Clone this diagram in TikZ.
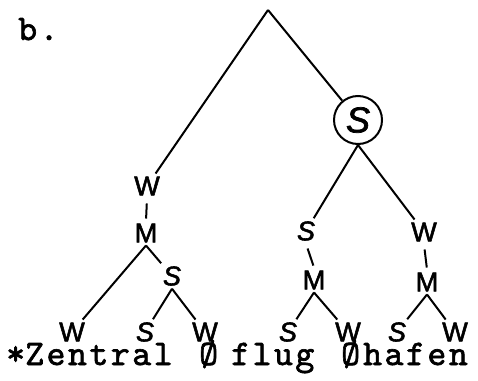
\documentclass[tikz,border=0pt]{standalone}
\usepackage{fontspec}
\newfontfamily\typefont{lmmono10-regular.otf}[LetterSpace=7, FakeBold=1.8]
\newfontfamily\handfont{Liberation Sans}[FakeBold=2]
\usetikzlibrary{positioning}

\begin{document}
\begin{tikzpicture}[
  x=1pt, y=-1pt,
  lab/.style={inner sep=3pt, font=\fontsize{27}{27}\selectfont\handfont},
  slab/.style={lab, font=\fontsize{27}{27}\selectfont\handfont\itshape},
  wrd/.style={inner sep=0pt, anchor=base west, font=\fontsize{36}{36}\selectfont\typefont},
  branch/.style={line width=2pt},
  stem/.style={line width=2pt, shorten <=5pt, shorten >=2pt}
]
  \useasboundingbox (0,0) rectangle (478,380);

  % ── Label ──
  \node[wrd] (tag) at (18,40) {b.};

  % ── Left branch ──
  \coordinate (root) at (268,10);
  \node[lab] (w1) at (147,186) {W};
  \node[lab] (m1) at (146,233) {M};
  \node[slab] (s2) at (172,276) {S};
  \node[lab] (l1) at (72,332) {W};
  \node[slab] (l2) at (145,332) {S};
  \node[lab] (l3) at (205,332) {W};

  \draw[branch] (root) -- (w1);
  \draw[stem] (w1.south) -- (m1.north);
  \draw[branch] (m1.south) -- (l1);
  \draw[branch] (m1.south) -- (s2);
  \draw[branch] (s2.south) -- (l2);
  \draw[branch] (s2.south) -- (l3);

  % ── Right branch ──
  \node[slab, font=\fontsize{36}{36}\selectfont\handfont\itshape, draw, circle, line width=2pt,
        minimum size=48pt, inner sep=0pt] (cs) at (358,120) {S};
  \node[slab] (s3) at (306,231) {S};
  \node[lab] (m3) at (314,280) {M};
  \node[lab] (w4) at (424,232) {W};
  \node[lab] (m4) at (427,282) {M};
  \node[slab] (l4) at (288,332) {S};
  \node[lab] (l5) at (348,332) {W};
  \node[slab] (l6) at (397,332) {S};
  \node[lab] (l7) at (455,332) {W};

  \draw[branch] (root) -- (cs);
  \draw[branch] (cs.south) -- (s3);
  \draw[branch] (cs.south) -- (w4);
  \draw[stem] (s3.south) -- (m3.north);
  \draw[stem] (w4.south) -- (m4.north);
  \draw[branch] (m3.south) -- (l4);
  \draw[branch] (m3.south) -- (l5);
  \draw[branch] (m4.south) -- (l6);
  \draw[branch] (m4.south) -- (l7);

  % ── Words ──
  \node[wrd] (ast) at (6,365) {*};
  \node[wrd] (zentral) at (25,365) {Zentral};
  \node[wrd] (nil1) at (199,365) {Ø};
  \node[wrd] (flug) at (231,365) {flug};
  \node[wrd] (nil2) at (341,365) {Ø};
  \node[wrd] (hafen) at (363,365) {hafen};
\end{tikzpicture}
\end{document}
